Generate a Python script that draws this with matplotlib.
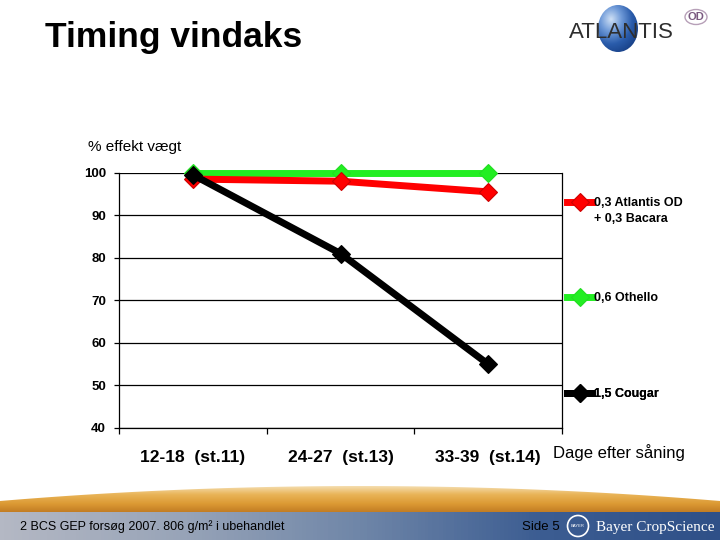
import numpy as np
import matplotlib
matplotlib.use("Agg")
import matplotlib.pyplot as plt
from matplotlib.lines import Line2D
from matplotlib.patches import Ellipse, Circle, Polygon
from matplotlib.colors import LinearSegmentedColormap

# ---------------- data ----------------
categories = ["12-18  (st.11)", "24-27  (st.13)", "33-39  (st.14)"]
series_names = ["0,3 Atlantis OD\n+ 0,3 Bacara", "0,6 Othello", "1,5 Cougar"]
atlantis = [98.5, 98.0, 95.5]
othello = [100.0, 100.0, 100.0]
cougar = [99.5, 81.0, 55.0]
y_ticks = [40, 50, 60, 70, 80, 90, 100]

plt.rcParams['font.family'] = ['Liberation Sans', 'DejaVu Sans']

W, H = 720, 540
fig = plt.figure(figsize=(7.2, 5.4), dpi=100)
fig.patch.set_facecolor('white')

def fx(px):
    return px / W

def fy(py):
    return 1 - py / H

# ---------------- background decorations ----------------
bg = fig.add_axes([0, 0, 1, 1], zorder=-5)
bg.set_xlim(0, W)
bg.set_ylim(H, 0)
bg.axis('off')

# wheat field arch
xs = np.linspace(0, W, 200)
top = 486 + 15 * ((xs - 360) / 360) ** 2
grad = np.linspace(0, 1, 60)[:, None] * np.ones((1, 10))
wheat_cmap = LinearSegmentedColormap.from_list('w', ['#f6e2b8', '#e9b458', '#dc9a34', '#c07a22'])
im = bg.imshow(grad, extent=(0, W, 513, 485), cmap=wheat_cmap, aspect='auto', zorder=1)
poly = Polygon(np.column_stack([np.r_[xs, W, 0], np.r_[top, 513, 513]]), closed=True,
               transform=bg.transData, facecolor='none', edgecolor='none')
bg.add_patch(poly)
im.set_clip_path(poly)

# footer bar
bar_grad = np.linspace(0, 1, 200)[None, :]
bar_cmap = LinearSegmentedColormap.from_list('b', ['#b4b8c4', '#98a4b8', '#6f86a8', '#3c5d92', '#2f5088'])
bg.imshow(bar_grad, extent=(0, W, 540, 512), cmap=bar_cmap, aspect='auto', zorder=2)

bg.text(20, 527, "2 BCS GEP forsøg 2007. 806 g/m² i ubehandlet", fontsize=9,
        color='black', va='center', ha='left', zorder=3)
bg.text(541, 527, "Side 5", fontsize=9.5, color='black',
        va='center', ha='center', zorder=3)
bg.add_patch(Circle((578, 526), 10.5, facecolor='none', edgecolor='white', lw=1.2, zorder=3))
bg.text(578, 526, "BAYER", fontsize=3, color='white', ha='center', va='center', zorder=3)
bg.text(596, 527, "Bayer CropScience", fontsize=11, family=['Liberation Serif', 'DejaVu Serif'],
        color='white', va='center', ha='left', zorder=3)

# Atlantis logo
sphere_cmap = LinearSegmentedColormap.from_list('s', ['#cfe0f5', '#6f9ad8', '#2a5cab', '#173f85'])
yy, xx = np.mgrid[-1:1:80j, -1:1:80j]
rr = np.sqrt((xx + 0.35) ** 2 + (yy + 0.4) ** 2)
sim = bg.imshow(rr, extent=(598, 638, 52, 5), cmap=sphere_cmap, aspect='auto', zorder=3,
                vmin=0, vmax=1.6)
ell = Ellipse((618, 28.5), 40, 47, transform=bg.transData, facecolor='none', edgecolor='none')
bg.add_patch(ell)
sim.set_clip_path(ell)
bg.text(621, 32, "ATLANTIS", fontsize=16, color='#2e2e2e', ha='center', va='center',
        zorder=4)
bg.add_patch(Ellipse((696, 17), 22, 15, facecolor='none', edgecolor='#b7a0b8', lw=1, zorder=4))
bg.text(696, 17, "OD", fontsize=8, color='#7a5a80', ha='center', va='center',
        weight='bold', zorder=4)

# title and texts
fig.text(fx(45), fy(38), "Timing vindaks", fontsize=25.5, weight='bold', ha='left',
         va='center', color='black')
fig.text(fx(88), fy(147), "% effekt vægt", fontsize=11, ha='left', va='center', color='black')
fig.text(fx(553), fy(453), "Dage efter såning", fontsize=12, ha='left', va='center', color='black')

# ---------------- chart ----------------
ax = fig.add_axes([fx(119), fy(428), fx(562 - 119), (428 - 172.7) / H])
ax.set_facecolor('none')
x = np.arange(len(categories))
colors = ['#ff0000', '#22ee22', '#000000']
edges = ['#cc0000', '#22dd22', '#000000']
data = [atlantis, othello, cougar]
zs = [3, 2.5, 4]
for vals, c, e, z in zip(data, colors, edges, zs):
    ax.plot(x, vals, color=c, lw=5, marker='D', markersize=9, markerfacecolor=c,
            markeredgecolor=e, markeredgewidth=0.8, zorder=z, solid_joinstyle='miter',
            clip_on=False)

ax.set_xlim(-0.5, 2.5)
ax.set_ylim(40, 100)
ax.set_yticks(y_ticks)
ax.set_yticklabels([str(v) for v in y_ticks], fontsize=9.5, weight='bold')
ax.yaxis.grid(True, color='black', lw=0.9)
ax.set_axisbelow(True)
ax.tick_params(axis='y', length=3.5, width=0.9, pad=6, direction='out')
ax.set_xticks([-0.5, 0.5, 1.5, 2.5])
ax.set_xticklabels([])
ax.set_xticks(x, categories, minor=True)
ax.tick_params(axis='x', which='major', length=4, width=0.9, direction='out')
ax.tick_params(axis='x', which='minor', length=0, pad=16, labelsize=12.5)
for lab in ax.get_xticklabels(minor=True):
    lab.set_fontweight('bold')
ax.spines['top'].set_visible(False)
for s in ['left', 'right', 'bottom']:
    ax.spines[s].set_linewidth(0.9)

# legend entries (separate legends to reproduce Excel spacing)
legend_y = [202, 298, 394]
for name, c, e, ly in zip(series_names, colors, edges, legend_y):
    h = Line2D([0], [0], color=c, lw=5, marker='D', markersize=9, markerfacecolor=c,
               markeredgecolor=e, markeredgewidth=0.8)
    lines = name.split('\n')
    handles = [h] + [Line2D([0], [0], color='none', lw=0)] * (len(lines) - 1)
    if len(lines) > 1:
        leg = ax.legend(handles, lines, loc='upper left',
                        bbox_to_anchor=(fx(567), fy(ly - 4.5)),
                        bbox_transform=fig.transFigure, frameon=False, borderpad=0,
                        borderaxespad=0, handlelength=2, handletextpad=0.2,
                        labelspacing=0.25, prop={'size': 9, 'weight': 'bold'})
    else:
        leg = ax.legend(handles, lines, loc='center left', bbox_to_anchor=(fx(567), fy(ly)),
                        bbox_transform=fig.transFigure, frameon=False, borderpad=0,
                        borderaxespad=0, handlelength=2, handletextpad=0.2,
                        prop={'size': 9, 'weight': 'bold'})
    ax.add_artist(leg)

fig.savefig("out.png", dpi=100)
